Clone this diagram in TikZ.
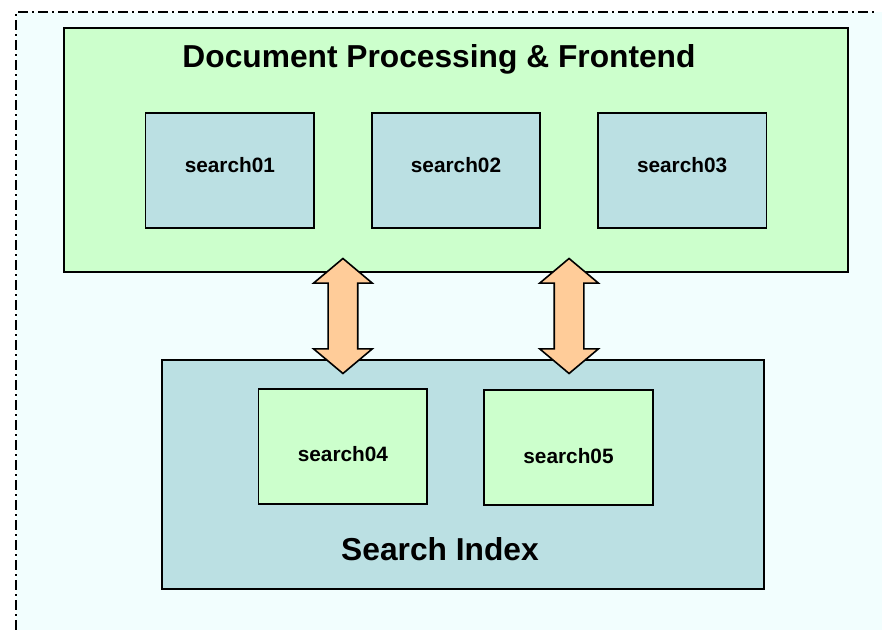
\documentclass[tikz,border=0pt]{standalone}
\usepackage{fontspec}
\setmainfont{Liberation Sans}
\usetikzlibrary{shapes.arrows, positioning, calc}
\definecolor{paleblue}{RGB}{187,224,227}
\definecolor{palegreen}{RGB}{204,255,204}
\definecolor{peach}{RGB}{255,204,153}
\definecolor{bgcyan}{RGB}{242,254,254}
\tikzset{
    groupbox/.style={rectangle, draw=black, line width=1.5pt, minimum width=588pt, minimum height=183pt},
    grouptitle/.style={anchor=base, inner sep=0pt, font=\bfseries\fontsize{23.8pt}{28pt}\selectfont},
    serverbox/.style={rectangle, draw=black, line width=1.2pt, minimum width=126.4pt, minimum height=86.25pt, font=\bfseries\fontsize{15.6pt}{18pt}\selectfont},
    toprow/.style={fill=paleblue, text height=7pt, text depth=4.4pt},
    bottomrow/.style={fill=palegreen, text height=23.4pt, text depth=0pt},
    linkarrow/.style={double arrow, shape border rotate=90, draw=black, line width=1.2pt, fill=peach, minimum height=86.25pt, minimum width=42.75pt, inner sep=10.5pt, double arrow head extend=10.9pt, double arrow tip angle=100},
    pageframe/.style={line width=1.5pt, dash pattern=on 7.5pt off 3pt on 1.5pt off 3pt}
}
\begin{document}
\begin{tikzpicture}[x=0.75pt, y=-0.75pt]
    \useasboundingbox (0,0) rectangle (882,630);
    % Background
    \fill[bgcyan] (16,12) rectangle (882,630);
    \draw[pageframe] (16,630) -- (16,12) -- (878,12);
    % Frontend
    \node (frontend) [groupbox, fill=palegreen] at (456,150) {};
    \node (frontend_title) [grouptitle] at ([xshift=-12.75pt, yshift=-30.2pt]frontend.north) {Document Processing \& Frontend};
    \node (search02) [serverbox, toprow, below=64pt of frontend.north] {search02};
    \node (search01) [serverbox, toprow, left=42pt of search02] {search01};
    \node (search03) [serverbox, toprow, right=42pt of search02] {search03};
    % Search index
    \node (index) [groupbox, fill=paleblue, minimum width=451.5pt, minimum height=171.75pt, below=64.5pt of frontend, xshift=5.25pt] {};
    \node (index_title) [grouptitle] at ([xshift=-17.25pt, yshift=22.3pt]index.south) {Search Index};
    \node (search04) [serverbox, bottomrow, below left=21.75pt and 26.25pt of index.north] {search04};
    \node (search05) [serverbox, bottomrow, right=41.6pt of search04, yshift=-1.1pt] {search05};
    % Links
    \coordinate (gap_mid) at ($(frontend.south)!0.5!(index.north)$);
    \coordinate (gap12) at ($(search01.east)!0.5!(search02.west)$);
    \coordinate (gap23) at ($(search02.east)!0.5!(search03.west)$);
    \node (link1) [linkarrow] at (gap12 |- gap_mid) {};
    \node (link2) [linkarrow] at (gap23 |- gap_mid) {};
\end{tikzpicture}
\end{document}
